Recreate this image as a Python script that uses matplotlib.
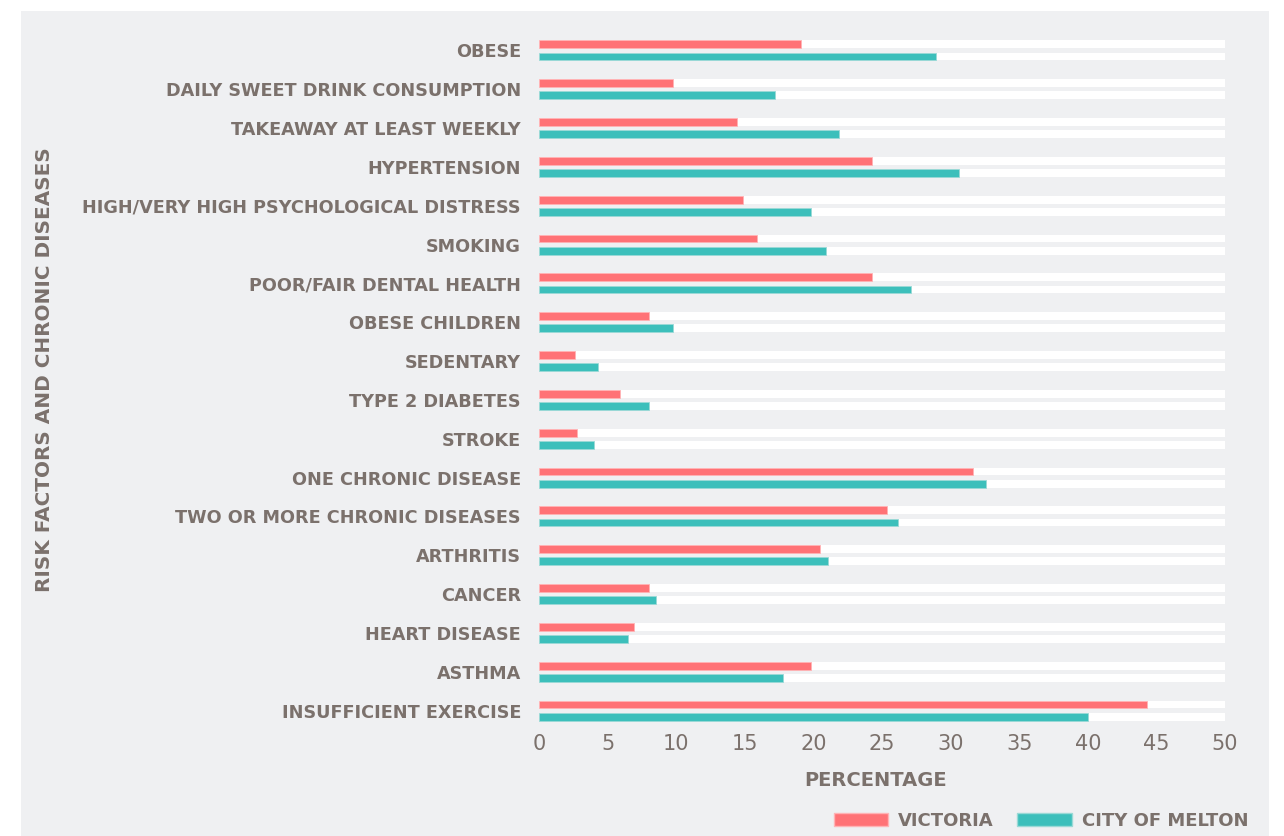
import numpy as np
import matplotlib.pyplot as plt
from matplotlib.patches import Rectangle, Patch

# datos
categorias = ["OBESE", "DAILY SWEET DRINK CONSUMPTION", "TAKEAWAY AT LEAST WEEKLY",
              "HYPERTENSION", "HIGH/VERY HIGH PSYCHOLOGICAL DISTRESS", "SMOKING",
              "POOR/FAIR DENTAL HEALTH", "OBESE CHILDREN", "SEDENTARY", "TYPE 2 DIABETES",
              "STROKE", "ONE CHRONIC DISEASE", "TWO OR MORE CHRONIC DISEASES", "ARTHRITIS",
              "CANCER", "HEART DISEASE", "ASTHMA", "INSUFFICIENT EXERCISE"]
victoria = [19.1, 9.8, 14.4, 24.3, 14.9, 15.9, 24.3, 8.0, 2.6, 5.9,
            2.8, 31.6, 25.4, 20.5, 8.0, 6.9, 19.8, 44.3]
melton = [28.9, 17.2, 21.9, 30.6, 19.8, 20.9, 27.1, 9.8, 4.3, 8.0,
          4.0, 32.6, 26.2, 21.1, 8.5, 6.5, 17.8, 40.0]
xticks = [0, 5, 10, 15, 20, 25, 30, 35, 40, 45, 50]

ROJO = '#ff7276'
TEAL = '#3cbfbb'
GRIS_TXT = '#7b716c'
FONDO = '#eff0f2'
FUENTE = ['DejaVu Sans']

W, H = 1284, 836
fig = plt.figure(figsize=(W / 100, H / 100), dpi=100, facecolor='white')
fig.patches.append(Rectangle((21 / W, 0), (1269 - 21) / W, (836 - 11) / H,
                             transform=fig.transFigure, facecolor=FONDO,
                             edgecolor='none', zorder=-10))

ax = fig.add_axes([539 / W, 1 - 730 / H, (1225 - 539) / W, (730 - 31) / H])
ax.set_facecolor('none')
ax.set_zorder(5)

y = np.arange(len(categorias))
alto = 0.205
off = 0.157

# pistas blancas de fondo
ax.barh(y - off, 50, height=alto, color='white', zorder=1)
ax.barh(y + off, 50, height=alto, color='white', zorder=1)
ax.barh(y - off, victoria, height=alto, color=ROJO, edgecolor='#ffb3b5',
        linewidth=0.6, zorder=2)
ax.barh(y + off, melton, height=alto, color=TEAL, edgecolor='#9ad9d6',
        linewidth=0.6, zorder=2)

ax.set_xlim(0, 50)
ax.set_ylim(len(categorias) - 0.5, -0.5)
ax.set_yticks(y)
ax.set_yticklabels(categorias, fontsize=12.7, fontweight='bold', color=GRIS_TXT,
                   family=FUENTE, va='center_baseline')
ax.set_xticks(xticks)
ax.set_xticklabels([str(v) for v in xticks], fontsize=15, color=GRIS_TXT,
                   family=FUENTE)
ax.tick_params(axis='y', length=0, pad=13)
ax.tick_params(axis='x', length=0, pad=3)
for s in ax.spines.values():
    s.set_visible(False)

fig.text(876 / W, 1 - 780 / H, 'PERCENTAGE', ha='center', va='center',
         fontsize=14, fontweight='bold', color=GRIS_TXT, family=FUENTE)
fig.text(45 / W, 1 - 370 / H, 'RISK FACTORS AND CHRONIC DISEASES', ha='center',
         va='center', rotation=90, fontsize=14.4, fontweight='bold',
         color=GRIS_TXT, family=FUENTE)

handles = [Patch(facecolor=ROJO, edgecolor='#ffb3b5', label='VICTORIA'),
           Patch(facecolor=TEAL, edgecolor='#9ad9d6', label='CITY OF MELTON')]
leg = fig.legend(handles=handles, loc='center right', ncol=2, frameon=False,
                 bbox_to_anchor=(1248 / W, 1 - 821 / H),
                 prop={'family': FUENTE, 'weight': 'bold', 'size': 13},
                 handlelength=3.0, handleheight=0.72, handletextpad=0.55,
                 columnspacing=1.3, borderpad=0, borderaxespad=0)
for t in leg.get_texts():
    t.set_color(GRIS_TXT)

fig.savefig('out.png', dpi=100, facecolor='white')
